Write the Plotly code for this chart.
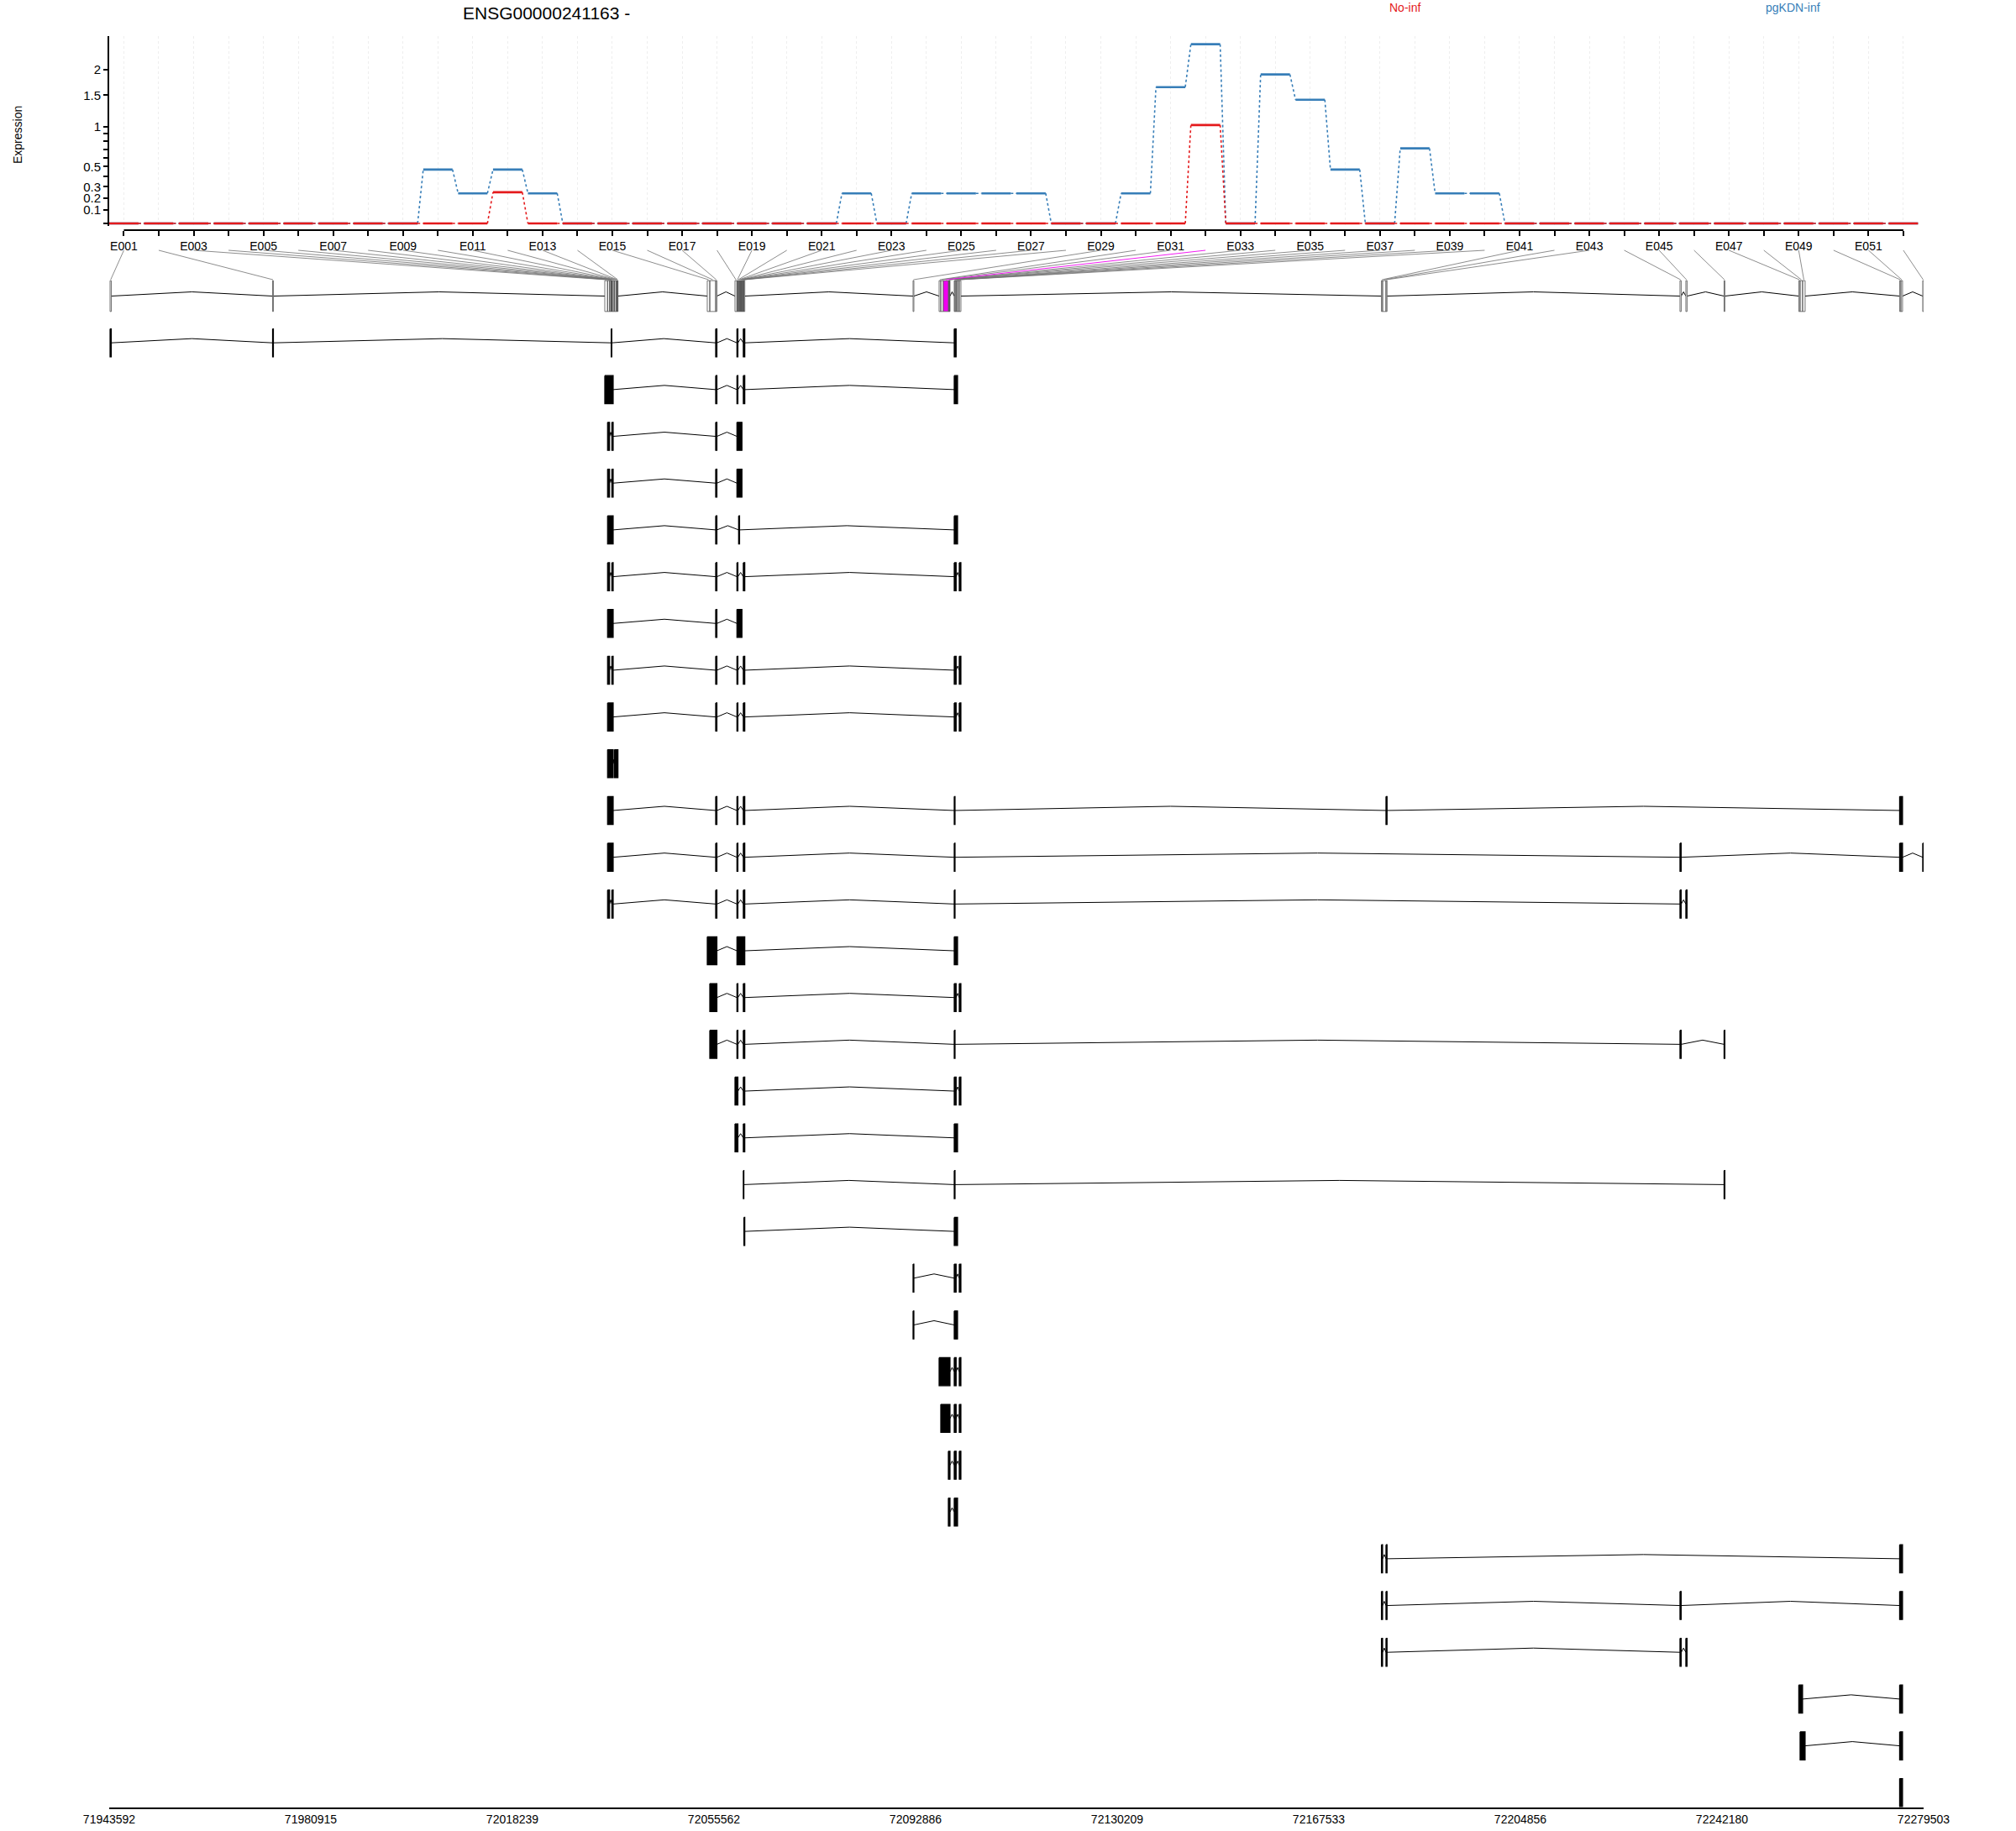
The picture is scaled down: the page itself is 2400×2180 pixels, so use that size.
import plotly.graph_objects as go

# ---------------- data ----------------
exon_ids = [f"E{i:03d}" for i in range(1, 53)]

no_inf_expr = [0, 0, 0, 0, 0, 0, 0, 0, 0, 0,
               0, 0.25, 0, 0, 0, 0, 0, 0, 0, 0,
               0, 0, 0, 0, 0, 0, 0, 0, 0, 0,
               0, 1.02, 0, 0, 0, 0, 0, 0, 0, 0,
               0, 0, 0, 0, 0, 0, 0, 0, 0, 0,
               0, 0]

pgkdn_inf_expr = [0, 0, 0, 0, 0, 0, 0, 0, 0, 0.47,
                  0.24, 0.47, 0.24, 0, 0, 0, 0, 0, 0, 0,
                  0, 0.24, 0, 0.24, 0.24, 0.24, 0.24, 0, 0, 0.24,
                  1.65, 2.6, 0, 1.9, 1.42, 0.47, 0, 0.71, 0.24, 0.24,
                  0, 0, 0, 0, 0, 0, 0, 0, 0, 0,
                  0, 0]

bin_start = [71943748, 71973839,
             72035343, 72035856, 72036229, 72036463, 72036525, 72036587,
             72036649, 72036898, 72037131, 72037411, 72037598, 72037707,
             72054315, 72054782, 72055870,
             72059447, 72059805, 72059991, 72060116, 72060302, 72060458,
             72060613, 72060738, 72060878, 72060987, 72061095,
             72092415,
             72097236, 72097547, 72098013, 72098946, 72099055, 72099164,
             72100035, 72100191, 72100393, 72100657, 72100968,
             72179127, 72179345, 72179967,
             72234396, 72235484, 72242560,
             72256390, 72256634, 72257100,
             72275062, 72275295, 72279338]

bin_end = [71943981, 71973994,
           72035856, 72036229, 72036463, 72036525, 72036587, 72036649,
           72036898, 72037131, 72037411, 72037598, 72037707, 72037784,
           72054782, 72055870, 72056103,
           72059805, 72059991, 72060116, 72060302, 72060458, 72060613,
           72060738, 72060878, 72060987, 72061095, 72061266,
           72092571,
           72097547, 72098013, 72098946, 72099055, 72099164, 72099258,
           72100191, 72100393, 72100657, 72100968, 72101279,
           72179345, 72179967, 72180169,
           72234630, 72235717, 72242715,
           72256634, 72257100, 72257567,
           72275295, 72275606, 72279503]

significant_bins = ["E032"]

# each transcript: exons given as bin numbers / bin ranges
transcripts = [
    "1,2,7-8,17,19,27-28,36-37",
    "3-9,17,19,27-28,36-38",
    "4,9,17,19-24",
    "4,9,17,19-24",
    "4-9,17,21,36-38",
    "4,9,17,19,27-28,36-37,40",
    "4-9,17,19-24",
    "4,9,17,19,27-28,36-37,40",
    "4-9,17,19,27-28,36-37,40",
    "4-9,11-14",
    "4-9,17,19,27-28,36,43,50-51",
    "4-9,17,19,27-28,36,44,50-51,52",
    "4,9,17,19,27-28,36,44,45",
    "15-17,19-28,36-38",
    "16-17,19,27-28,36-37,40",
    "16-17,19,27-28,36,44,46",
    "18-19,27-28,36-37,40",
    "18-19,27-28,36-38",
    "27,36,46",
    "28,36-38",
    "29,36-37,40",
    "29,36-38",
    "30-35,36-37,40",
    "31-35,36-37,40",
    "33,35,36-37,40",
    "33,35,36-38",
    "41,43,50-51",
    "41,43,44,50-51",
    "41,43,44,45",
    "47-48,50-51",
    "48-49,50-51",
    "50-51",
]

genome_ticks = [71943592, 71980915, 72018239, 72055562, 72092886,
                72130209, 72167533, 72204856, 72242180, 72279503]

expr_ticks = [0, 0.1, 0.2, 0.3, 0.4, 0.5, 0.6, 0.7, 0.8, 0.9, 1, 1.5, 2]
expr_tick_labels = ["", "0.1", "0.2", "0.3", "", "0.5", "", "", "", "", "1", "1.5", "2"]

gene_name = "ENSG00000241163 -"
conditions = ["No-inf", "pgKDN-inf"]

# ---------------- style ----------------
RED = "#E41A1C"
BLUE = "#377EB8"
MAGENTA = "#F000F0"
FONT = "Liberation Sans, Arial, sans-serif"

W, H = 2400, 2180
ML, MR, MT, MB = 130, 110, 0, 28
PH = H - MT - MB


def py(y_px):
    return (PH - (y_px - MT)) / PH


def px_frac(x_px):
    return (x_px - ML) / (W - ML - MR)


X_RANGE = [0.58, 52.58]
HALF = 0.42
G0, G1 = genome_ticks[0], genome_ticks[-1]

ROW0, ROW_STEP = 352.5, 55.68
r_bottom = (PH - ROW0) / ROW_STEP
r_top = (290 - ROW0) / ROW_STEP
EXON_H = 0.30
OVER_H = 0.33
PEAK = 0.09

fig = go.Figure()

# ---------------- expression panel ----------------
def seg_xy(vals):
    xs, ys = [], []
    for i, v in enumerate(vals, start=1):
        xs += [i - HALF, i + HALF, None]
        ys += [v + 1, v + 1, None]
    return xs, ys


def conn_xy(vals):
    xs, ys = [], []
    for i in range(len(vals) - 1):
        xs += [i + 1 + HALF, i + 2 - HALF, None]
        ys += [vals[i] + 1, vals[i + 1] + 1, None]
    return xs, ys


for vals, col in [(pgkdn_inf_expr, BLUE), (no_inf_expr, RED)]:
    cx, cy = conn_xy(vals)
    fig.add_trace(go.Scatter(x=cx, y=cy, mode="lines", xaxis="x", yaxis="y",
                             line=dict(color=col, width=1.6, dash="dot"),
                             hoverinfo="skip", showlegend=False))
    sx, sy = seg_xy(vals)
    fig.add_trace(go.Scatter(x=sx, y=sy, mode="lines", xaxis="x", yaxis="y",
                             line=dict(color=col, width=2.6),
                             hoverinfo="skip", showlegend=False))

# ---------------- gene model ----------------
def label_to_genome(i):
    return G0 + (i - X_RANGE[0]) / (X_RANGE[1] - X_RANGE[0]) * (G1 - G0)


r_line_top = (298 - ROW0) / ROW_STEP
r_line_bot = (333 - ROW0) / ROW_STEP

lx, ly, mx, my = [], [], [], []
for k, eid in enumerate(exon_ids):
    c = (bin_start[k] + bin_end[k]) / 2
    xs = [label_to_genome(k + 1), c, None]
    ys = [r_line_top, r_line_bot, None]
    if eid in significant_bins:
        mx += xs
        my += ys
    else:
        lx += xs
        ly += ys
fig.add_trace(go.Scatter(x=lx, y=ly, mode="lines", xaxis="x2", yaxis="y2",
                         line=dict(color="#707070", width=0.8),
                         hoverinfo="skip", showlegend=False))
fig.add_trace(go.Scatter(x=mx, y=my, mode="lines", xaxis="x2", yaxis="y2",
                         line=dict(color=MAGENTA, width=0.9),
                         hoverinfo="skip", showlegend=False))


def rect(s, e, r, h):
    return [s, e, e, s, s, None], [r - h, r - h, r + h, r + h, r - h, None]


def intron(e_a, s_b, r):
    return [e_a, (e_a + s_b) / 2, s_b, None], [r, r - PEAK, r, None]


# overview row (all bins)
ix, iy = [], []
for k in range(len(exon_ids) - 1):
    if bin_start[k + 1] > bin_end[k]:
        a, b = intron(bin_end[k], bin_start[k + 1], 0)
        ix += a
        iy += b
fig.add_trace(go.Scatter(x=ix, y=iy, mode="lines", xaxis="x2", yaxis="y2",
                         line=dict(color="black", width=1),
                         hoverinfo="skip", showlegend=False))

ox, oy, hx, hy = [], [], [], []
for k, eid in enumerate(exon_ids):
    a, b = rect(bin_start[k], bin_end[k], 0, OVER_H)
    if eid in significant_bins:
        hx += a
        hy += b
    else:
        ox += a
        oy += b
fig.add_trace(go.Scatter(x=ox, y=oy, mode="lines", fill="toself", fillcolor="white",
                         xaxis="x2", yaxis="y2",
                         line=dict(color="#505050", width=0.8),
                         hoverinfo="skip", showlegend=False))
fig.add_trace(go.Scatter(x=hx, y=hy, mode="lines", fill="toself", fillcolor=MAGENTA,
                         xaxis="x2", yaxis="y2",
                         line=dict(color="#606060", width=0.8),
                         hoverinfo="skip", showlegend=False))


def blocks(spec):
    out = []
    for part in spec.split(","):
        a, _, b = part.partition("-")
        a = int(a)
        b = int(b) if b else a
        out.append((bin_start[a - 1], bin_end[b - 1]))
    return out


tx, ty, ex, ey = [], [], [], []
for r, spec in enumerate(transcripts, start=1):
    bl = blocks(spec)
    for j in range(len(bl) - 1):
        a, b = intron(bl[j][1], bl[j + 1][0], r)
        tx += a
        ty += b
    for s, e in bl:
        a, b = rect(s, e, r, EXON_H)
        ex += a
        ey += b
fig.add_trace(go.Scatter(x=tx, y=ty, mode="lines", xaxis="x2", yaxis="y2",
                         line=dict(color="black", width=1),
                         hoverinfo="skip", showlegend=False))
fig.add_trace(go.Scatter(x=ex, y=ey, mode="lines", fill="toself", fillcolor="black",
                         xaxis="x2", yaxis="y2",
                         line=dict(color="black", width=1.2),
                         hoverinfo="skip", showlegend=False))

# ---------------- layout ----------------
exon_tick_text = [lab if i % 2 == 0 else "" for i, lab in enumerate(exon_ids)]
x_axis_pos = py(274)

fig.update_layout(
    width=W, height=H,
    margin=dict(l=ML, r=MR, t=MT, b=MB),
    paper_bgcolor="white", plot_bgcolor="white",
    font=dict(family=FONT, size=14, color="black"),
    showlegend=False,
    xaxis=dict(domain=[0, 1], range=X_RANGE, anchor="free", position=x_axis_pos,
               tickmode="array", tickvals=list(range(1, 53)), ticktext=exon_tick_text,
               ticks="outside", ticklen=6, tickwidth=2, tickcolor="black",
               showline=False, zeroline=False,
               showgrid=True, gridcolor="#eeeeee", griddash="dot", gridwidth=1,
               tickfont=dict(size=14, family=FONT)),
    yaxis=dict(domain=[py(269), py(43.3)], type="log", range=[-0.0078, 0.5807],
               anchor="x", tickmode="array",
               tickvals=[v + 1 for v in expr_ticks], ticktext=expr_tick_labels,
               ticks="outside", ticklen=5, tickwidth=1.5, tickcolor="black",
               showline=True, linewidth=2, linecolor="black",
               showgrid=False, zeroline=False,
               tickfont=dict(size=15, family=FONT)),
    xaxis2=dict(domain=[0, 1], range=[G0, G1], anchor="y2",
                tickmode="array", tickvals=genome_ticks,
                ticktext=[str(t) for t in genome_ticks],
                ticks="", showline=True, linewidth=2, linecolor="black",
                showgrid=False, zeroline=False,
                tickfont=dict(size=14, family=FONT)),
    yaxis2=dict(domain=[0, py(290)], range=[r_bottom, r_top], anchor="x2",
                visible=False, showgrid=False, zeroline=False),
    shapes=[dict(type="line", xref="x", yref="paper", x0=1, x1=52,
                 y0=x_axis_pos, y1=x_axis_pos,
                 line=dict(color="black", width=2))],
    annotations=[
        dict(text=gene_name, xref="paper", yref="paper", x=px_frac(650), y=py(15),
             xanchor="center", yanchor="middle", showarrow=False,
             font=dict(size=21, family=FONT, color="black")),
        dict(text=conditions[0], xref="paper", yref="paper", x=px_frac(1672), y=py(9),
             xanchor="center", yanchor="middle", showarrow=False,
             font=dict(size=14, family=FONT, color=RED)),
        dict(text=conditions[1], xref="paper", yref="paper", x=px_frac(2134), y=py(9),
             xanchor="center", yanchor="middle", showarrow=False,
             font=dict(size=14, family=FONT, color=BLUE)),
        dict(text="Expression", xref="paper", yref="paper", x=px_frac(21), y=py(160),
             xanchor="center", yanchor="middle", showarrow=False, textangle=-90,
             font=dict(size=14, family=FONT, color="black")),
    ],
)

fig.write_html("out.html", config={"displayModeBar": False},
               post_script="document.body.style.margin='0';document.body.style.overflow='hidden';")
